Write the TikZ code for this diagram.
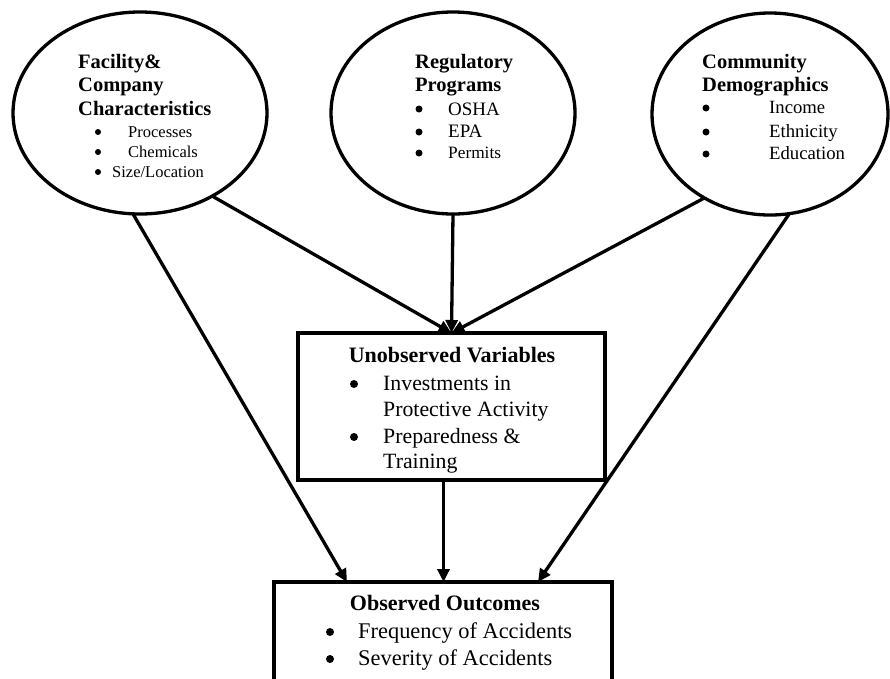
\documentclass[tikz,border=0pt]{standalone}
\usepackage{fontspec}
\setmainfont{Liberation Serif}
\usetikzlibrary{shapes.geometric,arrows.meta}
\tikzset{
  ell/.style={draw, ellipse, line width=3.3pt, inner sep=0pt, outer sep=0pt},
  boxn/.style={draw, rectangle, line width=3.8pt, inner sep=0pt, outer sep=0pt},
  conn/.style={line width=3.3pt, -{Triangle[length=13pt,width=12pt]}},
  ttl/.style={anchor=base west, inner sep=0pt, font=\fontsize{20.5}{24}\selectfont\bfseries},
  btl/.style={anchor=base, inner sep=0pt, font=\fontsize{22}{26}\selectfont\bfseries},
  itm/.style={anchor=base west, inner sep=0pt, font=\fontsize{#1}{20}\selectfont},
  itm/.default=17,
  dot/.style={circle, fill, inner sep=0pt, minimum size=#1},
  dot/.default=7pt
}
\begin{document}
\begin{tikzpicture}[x=1pt,y=-1pt]
\useasboundingbox (0,0) rectangle (890,678);
\clip (0,0) rectangle (890,678);
% ellipses
\node[ell, minimum width=254pt, minimum height=202pt] (L) at (140,113) {};
\node[ell, minimum width=244pt, minimum height=202pt] (M) at (453,113) {};
\node[ell, minimum width=236pt, minimum height=202pt] (R) at (770,114) {};
% boxes
\node[boxn, minimum width=307pt, minimum height=147pt] (U) at (451.5,406.5) {};
\node[boxn, minimum width=338pt, minimum height=140pt] (O) at (443,652) {};
% left ellipse text
\node[ttl] (l1) at (78,68) {Facility\&};
\node[ttl] (l2) at (78,91) {Company};
\node[ttl] (l3) at (78,115) {Characteristics};
\node[dot=6pt] (lb1) at (98,132) {};
\node[dot=6pt] (lb2) at (98,152) {};
\node[dot=6pt] (lb3) at (98,172) {};
\node[itm=16.5] (li1) at (128,137) {Processes};
\node[itm=16.5] (li2) at (128,157) {Chemicals};
\node[itm=16.5] (li3) at (112,177) {Size/Location};
% middle ellipse text
\node[ttl] (m1) at (415,68) {Regulatory};
\node[ttl] (m2) at (415,91) {Programs};
\node[dot] (mb1) at (419,109) {};
\node[dot] (mb2) at (419,132) {};
\node[dot] (mb3) at (419,153) {};
\node[itm=19] (mi1) at (448,115) {OSHA};
\node[itm=19] (mi2) at (448,137) {EPA};
\node[itm=17.3] (mi3) at (448,158) {Permits};
% right ellipse text
\node[ttl] (r1) at (702,68) {Community};
\node[ttl] (r2) at (702,91) {Demographics};
\node[dot] (rb1) at (706,108) {};
\node[dot] (rb2) at (706,132) {};
\node[dot] (rb3) at (706,154) {};
\node[itm=18.7] (ri1) at (769,113) {Income};
\node[itm=18.7] (ri2) at (769,137) {Ethnicity};
\node[itm=18.7] (ri3) at (769,159) {Education};
% unobserved text
\node[btl] (u0) at (452,362) {Unobserved Variables};
\node[dot=8pt] (ub1) at (354,384) {};
\node[dot=8pt] (ub2) at (354,437) {};
\node[itm=21.8] (ui1) at (383,390) {Investments in};
\node[itm=21.8] (ui2) at (383,416) {Protective Activity};
\node[itm=21.8] (ui3) at (383,443) {Preparedness \&};
\node[itm=21.8] (ui4) at (383,468) {Training};
% observed text
\node[btl] (o0) at (445,610) {Observed Outcomes};
\node[dot=8pt] (ob1) at (330,632) {};
\node[dot=8pt] (ob2) at (330,659) {};
\node[itm=22.4] (oi1) at (358,638) {Frequency of Accidents};
\node[itm=22.4] (oi2) at (358,665) {Severity of Accidents};
% connectors
\coordinate (oL) at ([xshift=-96pt]O.north);
\coordinate (oR) at ([xshift=95pt]O.north);
\coordinate (uS) at ([xshift=-8pt]U.south);
\coordinate (oM) at (uS |- O.north);
\draw[conn] (L.266) -- (oL);
\draw[conn] (L.311) -- (U.north);
\draw[conn] (M.south) -- (U.north);
\draw[conn] (R.232) -- (U.north);
\draw[conn] (R.281) -- (oR);
\draw[conn] (uS) -- (oM);
\end{tikzpicture}
\end{document}
